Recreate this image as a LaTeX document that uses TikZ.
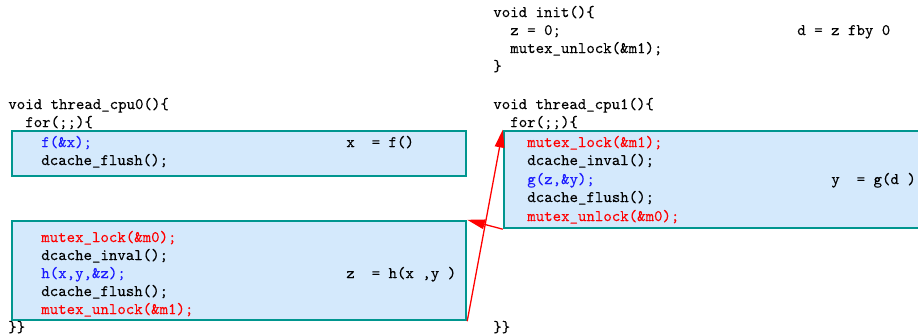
\documentclass[tikz,border=0pt]{standalone}
\usepackage{fontspec}
\setmonofont{Latin Modern Mono}[FakeBold=0.15]
\usetikzlibrary{arrows.meta,fit}
\definecolor{boxfill}{RGB}{212,233,252}
\definecolor{boxline}{RGB}{0,150,143}
\definecolor{codered}{RGB}{255,0,0}
\definecolor{codeblue}{RGB}{25,25,255}
\tikzset{
  code/.style={anchor=west, inner sep=0pt, font=\ttfamily\fontsize{10}{12}\selectfont,
               text height=7.5pt, text depth=2.5pt},
  sync/.style={code, text=codered},
  call/.style={code, text=codeblue},
  block/.style={draw=boxline, fill=boxfill, line width=1.5pt, inner sep=0pt},
  lockarrow/.style={draw=codered, line width=0.8pt, -{Triangle[length=11pt,width=6pt]}}
}
\begin{document}
\begin{tikzpicture}[x=0.6213pt,y=-0.6213pt]
\useasboundingbox (0,0) rectangle (918,334);

% critical sections
\coordinate (p0a) at (12,131);  \coordinate (p0b) at (466,176);
\coordinate (p1a) at (12,221);  \coordinate (p1b) at (466,320);
\coordinate (p2a) at (504,131); \coordinate (p2b) at (935,228);
\node[block, fit=(p0a)(p0b)] (b0) {};
\node[block, fit=(p1a)(p1b)] (b1) {};
\node[block, fit=(p2a)(p2b)] (b2) {};

% thread on cpu0
\node[code] (l0) at (8,105) {void thread\_cpu0()\{};
\node[code] (l1) at (25,123) {for(;;)\{};
\node[call] (l2) at (41,143) {f(\&x);};
\node[code] (e0) at (346,143) {x\ \ = f()};
\node[code] (l3) at (41,161) {dcache\_flush();};
\node[sync] (l4) at (41,238) {mutex\_lock(\&m0);};
\node[code] (l5) at (41,256) {dcache\_inval();};
\node[call] (l6) at (41,274) {h(x,y,\&z);};
\node[code] (e1) at (346,274) {z\ \ = h(x ,y )};
\node[code] (l7) at (41,292) {dcache\_flush();};
\node[sync] (l8) at (41,310) {mutex\_unlock(\&m1);};
\node[code] (l9) at (8,328) {\}\}};

% init and thread on cpu1
\node[code] (r0) at (493,13) {void init()\{};
\node[code] (r1) at (510,31) {z = 0;};
\node[code] (e2) at (797,31) {d = z fby 0};
\node[code] (r2) at (510,49) {mutex\_unlock(\&m1);};
\node[code] (r3) at (493,67) {\}};
\node[code] (r4) at (493,105) {void thread\_cpu1()\{};
\node[code] (r5) at (510,123) {for(;;)\{};
\node[sync] (r6) at (527,143) {mutex\_lock(\&m1);};
\node[code] (r7) at (527,161) {dcache\_inval();};
\node[call] (r8) at (527,180) {g(z,\&y);};
\node[code] (e3) at (831,180) {y\ \ = g(d )};
\node[code] (r9) at (527,198) {dcache\_flush();};
\node[sync] (r10) at (527,217) {mutex\_unlock(\&m0);};
\node[code] (r11) at (493,328) {\}\}};

% mutex hand-over between the threads
\draw[lockarrow] (b1.south east) -- (b2.north west);
\draw[lockarrow] (b2.south west) -- (b1.north east);
\end{tikzpicture}
\end{document}
